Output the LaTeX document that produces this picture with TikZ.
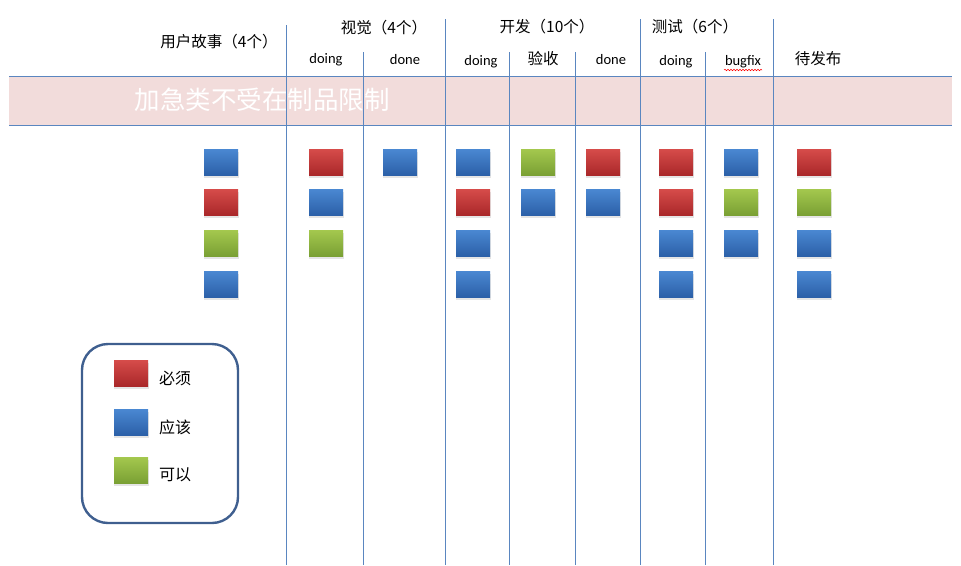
\documentclass[tikz,border=0pt]{standalone}
\usepackage{fontspec}
\setmainfont{Carlito}
\newfontfamily\cjk{Noto Sans CJK SC}
\usetikzlibrary{decorations.pathmorphing}
\definecolor{gridblue}{HTML}{5A86C0}
\definecolor{bandpink}{HTML}{F2DCDB}
\definecolor{legendblue}{HTML}{3F5F8F}
\tikzset{
  card/.style={minimum width=34pt, minimum height=26pt, inner sep=0pt, draw=none},
  cred/.style={card, top color={rgb,255:red,214;green,76;blue,74}, bottom color={rgb,255:red,170;green,40;blue,42}},
  cblue/.style={card, top color={rgb,255:red,74;green,136;blue,210}, bottom color={rgb,255:red,44;green,96;blue,168}},
  cgreen/.style={card, top color={rgb,255:red,164;green,200;blue,78}, bottom color={rgb,255:red,122;green,160;blue,52}},
  shad/.style={fill=black!10, draw=none, minimum width=35pt, minimum height=26pt, inner sep=0pt},
  gline/.style={draw=gridblue, line width=0.9pt},
  head/.style={font=\cjk\fontsize{15.5}{18}\selectfont, inner sep=0pt, anchor=center},
  sub/.style={font=\fontsize{14.5}{17}\selectfont, inner sep=0pt, anchor=center},
  legtxt/.style={font=\cjk\fontsize{16}{19}\selectfont, inner sep=0pt, anchor=center}
}
\begin{document}
\begin{tikzpicture}[x=1pt,y=-1pt]
\useasboundingbox (0,0) rectangle (961,565);
% band
\fill[bandpink] (9,76) rectangle (952,125);
\draw[gline] (9,76) -- (952,76);
\draw[gline] (9,125) -- (952,125);
\node[font=\cjk\fontsize{25.5}{28}\selectfont, text=white, inner sep=0pt] (band) at (262,100) {加急类不受在制品限制};
% vertical lines
\draw[gline] (286,25) -- (286,565);
\draw[gline] (363,52) -- (363,565);
\draw[gline] (445,19) -- (445,565);
\draw[gline] (509,52) -- (509,565);
\draw[gline] (575,52) -- (575,565);
\draw[gline] (640,19) -- (640,565);
\draw[gline] (705,52) -- (705,565);
\draw[gline] (773,19) -- (773,565);
% headers
\node[head] (h1) at (219,42) {用户故事（4个）};
\node[head] (h2) at (384,28) {视觉（4个）};
\node[head] (h3) at (547,27) {开发（10个）};
\node[head] (h4) at (695,27) {测试（6个）};
\node[sub] (s1) at (326,60) {doing};
\node[sub] (s2) at (405,60) {done};
\node[sub] (s3) at (481,62) {doing};
\node[head] (s4) at (543,59) {验收};
\node[sub] (s5) at (611,60) {done};
\node[sub] (s6) at (676,62) {doing};
\node[sub] (s7) at (743,62) {bugfix};
\draw[red, line width=0.5pt, decorate, decoration={snake, amplitude=0.8pt, segment length=3pt}] (724,70) -- (762,70);
\node[head] (s8) at (818,59) {待发布};
% cards
\foreach \x/\y/\c [count=\i] in {
  221/162/cblue, 221/202/cred, 221/243/cgreen, 221/284/cblue,
  326/162/cred, 326/202/cblue, 326/243/cgreen,
  400/162/cblue,
  473/162/cblue, 473/202/cred, 473/243/cblue, 473/284/cblue,
  538/162/cgreen, 538/202/cblue,
  603/162/cred, 603/202/cblue,
  676/162/cred, 676/202/cred, 676/243/cblue, 676/284/cblue,
  741/162/cblue, 741/202/cgreen, 741/243/cblue,
  814/162/cred, 814/202/cgreen, 814/243/cblue, 814/284/cblue} {
  \node[shad] at (\x+0.5,\y+2.5) {};
  \node[\c] (card\i) at (\x,\y) {};
}
% legend
\draw[legendblue, line width=2.4pt, rounded corners=26pt] (82,344) rectangle (238,523);
\node[shad] at (131.5,375.5) {};
\node[cred] (lr) at (131,373) {};
\node[shad] at (131.5,424.5) {};
\node[cblue] (lb) at (131,422) {};
\node[shad] at (131.5,472.5) {};
\node[cgreen] (lg) at (131,470) {};
\node[legtxt] (t1) at (175,378) {必须};
\node[legtxt] (t2) at (175,427) {应该};
\node[legtxt] (t3) at (175,475) {可以};
\end{tikzpicture}
\end{document}
